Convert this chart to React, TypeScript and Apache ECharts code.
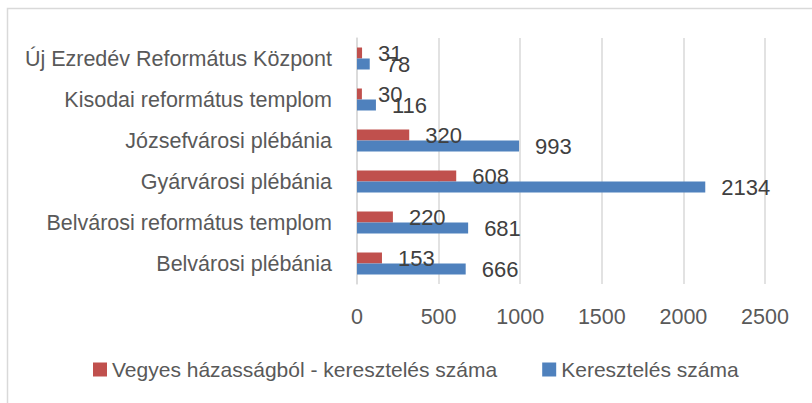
import React, { useEffect, useRef } from "react";
import * as echarts from "echarts";

// Categories listed bottom-to-top (ECharts category y axis order)
const categories = [
  "Belvárosi plébánia",
  "Belvárosi református templom",
  "Gyárvárosi plébánia",
  "Józsefvárosi plébánia",
  "Kisodai református templom",
  "Új Ezredév Református Központ",
];
const vegyesValues = [153, 220, 608, 320, 30, 31];
const kereszteles = [666, 681, 2134, 993, 116, 78];
const seriesNames = ["Vegyes házasságból - keresztelés száma", "Keresztelés száma"];
const xTicks = { min: 0, max: 2500, interval: 500 };

const FONT = "'Liberation Sans', Arial, sans-serif";

export default function App() {
  const ref = useRef<HTMLDivElement>(null);
  useEffect(() => {
    if (!ref.current) return;
    const chart = echarts.init(ref.current, undefined, { renderer: "svg" });
    const labelCfg = {
      show: true,
      position: "right",
      distance: 16,
      color: "#404040",
      fontFamily: FONT,
      fontSize: 22,
    };
    chart.setOption({
      animation: false,
      backgroundColor: "#ffffff",
      graphic: [
        {
          type: "rect",
          shape: { x: 7.5, y: 8.5, width: 1000, height: 1000 },
          style: { fill: "none", stroke: "#d9d9d9", lineWidth: 1.5 },
          silent: true,
        },
      ],
      grid: { left: 357, right: 47, top: 38, bottom: 119, containLabel: false },
      legend: {
        data: seriesNames,
        left: 93,
        top: 359,
        padding: 0,
        itemWidth: 14,
        itemHeight: 14,
        itemGap: 45,
        icon: "rect",
        textStyle: { color: "#595959", fontFamily: FONT, fontSize: 21 },
      },
      xAxis: {
        type: "value",
        min: xTicks.min,
        max: xTicks.max,
        interval: xTicks.interval,
        axisLine: { show: false },
        axisTick: { show: false },
        splitLine: { show: true, lineStyle: { color: "#d9d9d9", width: 1.5 } },
        axisLabel: {
          color: "#595959",
          fontFamily: FONT,
          fontSize: 21.5,
          margin: 22,
          formatter: (v: number) => String(v),
        },
      },
      yAxis: {
        type: "category",
        data: categories,
        axisLine: { show: true, lineStyle: { color: "#d9d9d9", width: 1.5 } },
        axisTick: { show: false },
        axisLabel: { color: "#595959", fontFamily: FONT, fontSize: 21.5, margin: 25 },
      },
      series: [
        {
          name: seriesNames[0],
          type: "bar",
          data: vegyesValues,
          itemStyle: { color: "#c0504d" },
          barWidth: 11,
          barGap: "0%",
          label: labelCfg,
        },
        {
          name: seriesNames[1],
          type: "bar",
          data: kereszteles,
          itemStyle: { color: "#4f81bd" },
          barWidth: 11,
          barGap: "0%",
          label: labelCfg,
        },
      ],
    });
    return () => chart.dispose();
  }, []);
  return (
    <div
      ref={ref}
      style={{ position: "absolute", left: 0, top: 0, width: 812, height: 403 }}
    />
  );
}
